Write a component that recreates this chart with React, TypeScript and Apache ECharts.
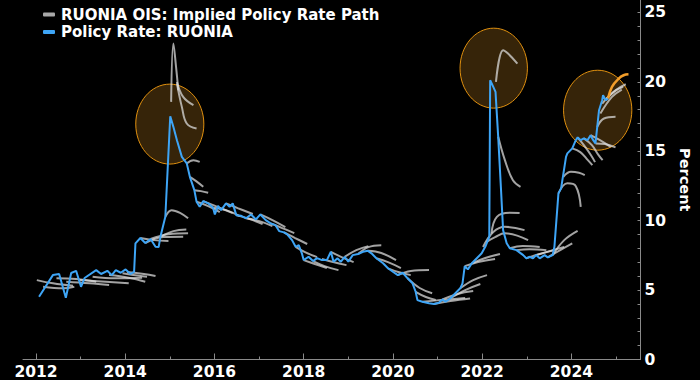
import React, { useEffect, useRef } from "react";
import * as echarts from "echarts";

const OIS_NAME = "RUONIA OIS: Implied Policy Rate Path";
const RUONIA_NAME = "Policy Rate: RUONIA";

const xLabelYears = [2012, 2014, 2016, 2018, 2020, 2022, 2024];
const xMinorTickYears = [2013, 2015, 2017, 2019, 2021, 2023, 2025];
const yLabelValues = [0, 5, 10, 15, 20, 25];
const yTickValues = [0,1,2,3,4,5,6,7,8,9,10,11,12,13,14,15,16,17,18,19,20,21,22,23,24,25];

const ruoniaDates = [
  2012.07, 2012.38, 2012.52, 2012.67, 2012.79, 2012.9, 2013.01, 2013.09, 2013.35, 2013.46,
  2013.6, 2013.7, 2013.79, 2013.9, 2014.01, 2014.12, 2014.2, 2014.23, 2014.34, 2014.45,
  2014.57, 2014.68, 2014.75, 2014.79, 2014.9, 2015.01, 2015.08, 2015.16, 2015.27, 2015.38,
  2015.45, 2015.55, 2015.6, 2015.67, 2015.75, 2015.86, 2015.97, 2016.01, 2016.08, 2016.15,
  2016.26, 2016.34, 2016.41, 2016.49, 2016.6, 2016.71, 2016.82, 2016.93, 2017.03, 2017.15,
  2017.26, 2017.37, 2017.45, 2017.56, 2017.63, 2017.74, 2017.82, 2017.89, 2017.96, 2018.0,
  2018.11, 2018.21, 2018.3, 2018.41, 2018.52, 2018.61, 2018.67, 2018.76, 2018.83, 2018.92,
  2019.0, 2019.1, 2019.22, 2019.33, 2019.44, 2019.52, 2019.63, 2019.78, 2019.89, 2020.0,
  2020.11, 2020.22, 2020.33, 2020.44, 2020.51, 2020.55, 2020.66, 2020.81, 2020.92, 2021.03,
  2021.11, 2021.18, 2021.29, 2021.4, 2021.51, 2021.56, 2021.61, 2021.68, 2021.77, 2021.88,
  2021.99, 2022.07, 2022.16, 2022.18, 2022.25, 2022.3, 2022.36, 2022.42, 2022.47, 2022.55,
  2022.62, 2022.77, 2022.92, 2022.99, 2023.06, 2023.14, 2023.21, 2023.29, 2023.4, 2023.47,
  2023.58, 2023.62, 2023.71, 2023.77, 2023.88, 2023.91, 2024.02, 2024.1, 2024.14, 2024.21,
  2024.28, 2024.36, 2024.43, 2024.49, 2024.54, 2024.62, 2024.69, 2024.71, 2024.77, 2024.82,
];
const ruoniaValues = [
  4.52, 6.08, 6.16, 4.45, 6.23, 6.39, 5.24, 5.87, 6.44, 6.16,
  6.39, 6.08, 6.44, 6.25, 6.49, 6.16, 6.32, 8.37, 8.75, 8.39,
  8.68, 8.12, 8.1, 8.84, 10.28, 17.53, 16.76, 15.8, 14.6, 14.13,
  13.16, 12.2, 11.36, 11.0, 11.41, 11.25, 10.93, 10.45, 11.07, 10.76,
  11.25, 11.0, 11.25, 10.4, 10.35, 10.17, 10.45, 10.09, 10.45, 10.04,
  9.81, 9.68, 9.25, 9.16, 9.01, 8.6, 8.12, 8.24, 7.65, 7.16,
  7.4, 7.09, 7.3, 7.16, 7.16, 7.76, 7.04, 7.29, 7.04, 7.4,
  7.04, 7.52, 7.6, 7.76, 7.83, 7.65, 7.29, 6.93, 6.57, 6.32,
  6.08, 6.25, 5.85, 5.49, 4.88, 4.28, 4.16, 4.05, 4.0, 4.09,
  4.33, 4.16, 4.41, 4.77, 5.13, 5.49, 6.73, 6.49, 6.93, 7.29,
  7.65, 8.12, 8.84, 20.12, 19.64, 19.28, 16.04, 12.44, 9.32, 8.37,
  8.01, 7.88, 7.52, 7.29, 7.4, 7.29, 7.52, 7.29, 7.52, 7.36,
  7.52, 8.12, 11.97, 12.33, 14.6, 14.85, 15.21, 15.8, 16.0, 15.8,
  15.93, 15.8, 16.16, 15.8, 15.57, 17.96, 18.68, 19.04, 18.68, 18.8,
];

const latestPathDates = [2024.82, 2024.91, 2025.06, 2025.17, 2025.28];
const latestPathValues = [18.8, 19.64, 20.24, 20.48, 20.55];

// Each implied path: list of [date, rate]
const oisPaths: number[][][] = [
  [[2012.02, 5.72], [2012.38, 5.49], [2012.83, 5.31]],
  [[2012.16, 5.24], [2012.61, 5.13], [2012.86, 5.24]],
  [[2012.46, 5.85], [2012.9, 5.8], [2013.35, 5.6]],
  [[2012.68, 5.6], [2013.2, 5.49], [2013.64, 5.36]],
  [[2012.98, 5.72], [2013.57, 5.6], [2014.08, 5.49]],
  [[2013.27, 5.96], [2013.79, 5.85], [2014.38, 5.89]],
  [[2013.64, 6.08], [2014.08, 5.89], [2014.45, 5.6]],
  [[2013.94, 6.21], [2014.31, 6.03], [2014.49, 5.96]],
  [[2014.04, 6.3], [2014.42, 6.16], [2014.68, 6.01]],
  [[2014.34, 8.75], [2014.64, 8.6], [2014.97, 8.53]],
  [[2014.45, 8.39], [2014.86, 8.82], [2015.3, 8.84]],
  [[2014.57, 8.68], [2014.97, 9.03], [2015.41, 9.09]],
  [[2014.79, 8.84], [2015.08, 9.25], [2015.37, 9.37]],
  [[2014.9, 10.28], [2015.04, 10.76], [2015.23, 10.57], [2015.41, 10.17]],
  [[2015.03, 18.56], [2015.08, 22.76], [2015.14, 21.08], [2015.19, 19.4]],
  [[2015.16, 20.0], [2015.3, 18.92], [2015.53, 18.32]],
  [[2015.16, 19.88], [2015.27, 18.2], [2015.38, 17.0], [2015.6, 16.64]],
  [[2015.38, 14.13], [2015.53, 14.36], [2015.67, 14.24]],
  [[2015.45, 13.16], [2015.59, 12.85], [2015.75, 12.44]],
  [[2015.55, 12.2], [2015.7, 12.13], [2015.86, 12.01]],
  [[2015.6, 11.36], [2015.86, 11.05], [2016.12, 10.62]],
  [[2015.75, 11.41], [2016.08, 10.98], [2016.41, 10.55]],
  [[2015.97, 10.93], [2016.26, 10.76], [2016.57, 10.33]],
  [[2016.26, 11.25], [2016.52, 10.91], [2016.86, 10.48]],
  [[2016.49, 10.4], [2016.79, 10.12], [2017.08, 9.76]],
  [[2016.71, 10.17], [2017.01, 9.97], [2017.3, 9.61]],
  [[2017.03, 10.45], [2017.3, 10.04], [2017.59, 9.54]],
  [[2017.26, 9.81], [2017.52, 9.47], [2017.79, 9.11]],
  [[2017.56, 9.16], [2017.81, 8.75], [2018.08, 8.32]],
  [[2017.82, 8.12], [2018.03, 7.74], [2018.3, 7.38]],
  [[2018.0, 7.16], [2018.25, 6.88], [2018.52, 6.59]],
  [[2018.21, 7.09], [2018.47, 6.73], [2018.78, 6.44]],
  [[2018.41, 7.24], [2018.66, 7.02], [2018.96, 6.8]],
  [[2018.61, 7.76], [2018.85, 7.38], [2019.12, 7.02]],
  [[2018.92, 7.4], [2019.18, 7.88], [2019.45, 8.17]],
  [[2019.22, 7.6], [2019.45, 8.1], [2019.74, 8.24]],
  [[2019.44, 7.83], [2019.74, 7.67], [2020.07, 7.16]],
  [[2019.63, 7.29], [2019.89, 7.02], [2020.18, 6.59]],
  [[2019.89, 6.57], [2020.12, 6.3], [2020.4, 6.08]],
  [[2020.11, 6.08], [2020.4, 6.37], [2020.81, 6.44]],
  [[2020.33, 5.85], [2020.6, 5.15], [2020.88, 4.77]],
  [[2020.51, 4.88], [2020.74, 4.5], [2020.96, 4.28]],
  [[2020.66, 4.16], [2021.07, 4.28], [2021.62, 4.43]],
  [[2020.92, 4.0], [2021.29, 4.21], [2021.73, 4.39]],
  [[2021.11, 4.33], [2021.45, 4.72], [2021.8, 4.93]],
  [[2021.29, 4.41], [2021.62, 5.0], [2021.96, 5.44]],
  [[2021.51, 5.13], [2021.8, 5.72], [2022.11, 6.08]],
  [[2021.61, 6.73], [2021.91, 7.02], [2022.29, 7.24]],
  [[2021.77, 6.93], [2022.07, 7.31], [2022.4, 7.6]],
  [[2022.02, 8.1], [2022.25, 9.18], [2022.51, 9.56], [2022.95, 9.32]],
  [[2022.09, 8.46], [2022.29, 8.82], [2022.51, 9.09], [2023.03, 8.6]],
  [[2022.21, 9.09], [2022.33, 10.28], [2022.62, 10.57], [2022.84, 10.55]],
  [[2022.31, 20.0], [2022.47, 22.28], [2022.58, 22.04], [2022.79, 21.32]],
  [[2022.36, 16.04], [2022.51, 14.36], [2022.69, 12.92], [2022.86, 12.44]],
  [[2022.62, 8.01], [2022.91, 8.17], [2023.29, 8.1]],
  [[2022.77, 7.88], [2023.06, 7.95], [2023.44, 7.88]],
  [[2022.99, 7.29], [2023.29, 7.6], [2023.62, 7.88]],
  [[2023.21, 7.52], [2023.51, 7.81], [2023.84, 8.1]],
  [[2023.47, 7.36], [2023.75, 7.88], [2024.02, 8.37]],
  [[2023.58, 7.52], [2023.84, 8.6], [2024.14, 9.27]],
  [[2023.71, 11.97], [2023.91, 12.69], [2024.1, 12.49], [2024.21, 11.0]],
  [[2023.82, 13.16], [2023.99, 13.52], [2024.17, 13.45], [2024.3, 13.28]],
  [[2024.02, 15.21], [2024.2, 14.94], [2024.37, 14.36], [2024.47, 14.0]],
  [[2024.14, 16.0], [2024.28, 15.44], [2024.44, 14.72], [2024.53, 14.22]],
  [[2024.28, 15.93], [2024.46, 15.44], [2024.61, 14.72], [2024.7, 14.36]],
  [[2024.43, 16.16], [2024.64, 15.8], [2024.88, 15.32]],
  [[2024.54, 15.57], [2024.75, 15.52], [2024.99, 15.28]],
  [[2024.58, 16.76], [2024.73, 17.36], [2024.99, 17.48]],
  [[2024.65, 17.72], [2024.91, 18.92], [2025.13, 19.45]],
  [[2024.69, 18.44], [2024.95, 19.28], [2025.16, 19.64]],
  [[2024.76, 18.68], [2024.99, 19.4], [2025.22, 19.83]],
];

// Highlight ellipses: centre (date, rate) and radii (years, rate points)
const highlightDates = [2015.0, 2022.26, 2024.59];
const highlightRates = [16.96, 20.99, 17.96];
const highlightRadiusYears = [0.763, 0.755, 0.765];
const highlightRadiusRates = [2.88, 2.88, 2.88];

const FONT = "DejaVu Sans";
const BLUE = "#3ea5f6";
const GRAY = "rgba(218,218,218,0.75)";
const ORANGE = "#f29d2a";

export default function App() {
  const ref = useRef<HTMLDivElement>(null);

  useEffect(() => {
    document.body.style.margin = "0";
    document.body.style.background = "#000";
    if (!ref.current) return;
    const chart = echarts.init(ref.current, undefined, { renderer: "svg" });

    const graySeries = oisPaths.map((p) => ({
      type: "line",
      name: OIS_NAME,
      data: p,
      showSymbol: false,
      smooth: 0.4,
      color: GRAY,
      lineStyle: { color: GRAY, width: 2 },
      z: 2,
      silent: true,
    }));

    const option: any = {
      animation: false,
      backgroundColor: "#000",
      textStyle: { fontFamily: FONT },
      legend: {
        orient: "vertical",
        left: 38,
        top: 2,
        itemGap: 2.5,
        itemWidth: 12,
        itemHeight: 4,
        icon: "roundRect",
        selectedMode: false,
        textStyle: {
          color: "#fff",
          fontWeight: "bold",
          fontSize: 15,
          lineHeight: 15,
          fontFamily: FONT,
          padding: [0, 0, 0, 1],
        },
        data: [
          { name: OIS_NAME, itemStyle: { color: "#a8a8a8" } },
          { name: RUONIA_NAME, itemStyle: { color: BLUE } },
        ],
      },
      grid: { left: 23, right: 53, top: 0, bottom: 20.5, containLabel: false },
      xAxis: [
        {
          type: "value",
          min: 2011.71,
          max: 2025.55,
          splitLine: { show: false },
          axisLine: { show: true, lineStyle: { color: "#8a8a8a", width: 1 } },
          axisTick: { show: true, inside: true, length: 6, customValues: xLabelYears, lineStyle: { color: "#8a8a8a" } },
          axisLabel: {
            show: true,
            customValues: xLabelYears,
            color: "#fff",
            fontWeight: "bold",
            fontSize: 15.5,
            fontFamily: FONT,
            margin: 4,
            formatter: (v: number) => String(Math.round(v)),
          },
        },
        {
          type: "value",
          position: "bottom",
          min: 2011.71,
          max: 2025.55,
          splitLine: { show: false },
          axisLine: { show: false },
          axisTick: { show: true, inside: true, length: 3, customValues: xMinorTickYears, lineStyle: { color: "#8a8a8a" } },
          axisLabel: { show: false },
        },
      ],
      yAxis: {
        type: "value",
        position: "right",
        min: 0,
        max: 25.9,
        splitLine: { show: false },
        axisLine: { show: true, lineStyle: { color: "#8a8a8a", width: 1 } },
        axisTick: { show: true, inside: true, length: 3, customValues: yTickValues, lineStyle: { color: "#8a8a8a" } },
        axisLabel: {
          customValues: yLabelValues,
          color: "#fff",
          fontWeight: "bold",
          fontSize: 15.5,
          fontFamily: FONT,
          margin: 4,
        },
        name: "Percent",
        nameLocation: "middle",
        nameRotate: -90,
        nameGap: 34,
        nameTextStyle: { color: "#fff", fontWeight: "bold", fontSize: 14.5, fontFamily: FONT },
      },
      series: [
        {
          type: "custom",
          name: "highlights",
          silent: true,
          z: 1,
          clip: false,
          data: highlightDates.map((d, i) => [d, highlightRates[i], highlightRadiusYears[i], highlightRadiusRates[i]]),
          encode: { x: 0, y: 1 },
          renderItem: (_params: any, api: any) => {
            const c = api.coord([api.value(0), api.value(1)]);
            const s = api.size([api.value(2), api.value(3)]);
            return {
              type: "ellipse",
              shape: { cx: c[0], cy: c[1], rx: s[0], ry: s[1] },
              style: { fill: "#362409", stroke: "#e0900f", lineWidth: 1 },
            };
          },
        },
        ...graySeries,
        {
          type: "line",
          name: "Latest implied path",
          data: latestPathDates.map((d, i) => [d, latestPathValues[i]]),
          showSymbol: false,
          smooth: 0.4,
          color: ORANGE,
          lineStyle: { color: ORANGE, width: 2.5 },
          z: 3,
          silent: true,
        },
        {
          type: "line",
          name: RUONIA_NAME,
          data: ruoniaDates.map((d, i) => [d, ruoniaValues[i]]),
          showSymbol: false,
          color: BLUE,
          lineStyle: { color: BLUE, width: 2 },
          z: 4,
          silent: true,
        },
      ],
    };

    chart.setOption(option);
    return () => chart.dispose();
  }, []);

  return (
    <div
      ref={ref}
      style={{ position: "fixed", left: 0, top: 0, width: 700, height: 380, background: "#000" }}
    />
  );
}
